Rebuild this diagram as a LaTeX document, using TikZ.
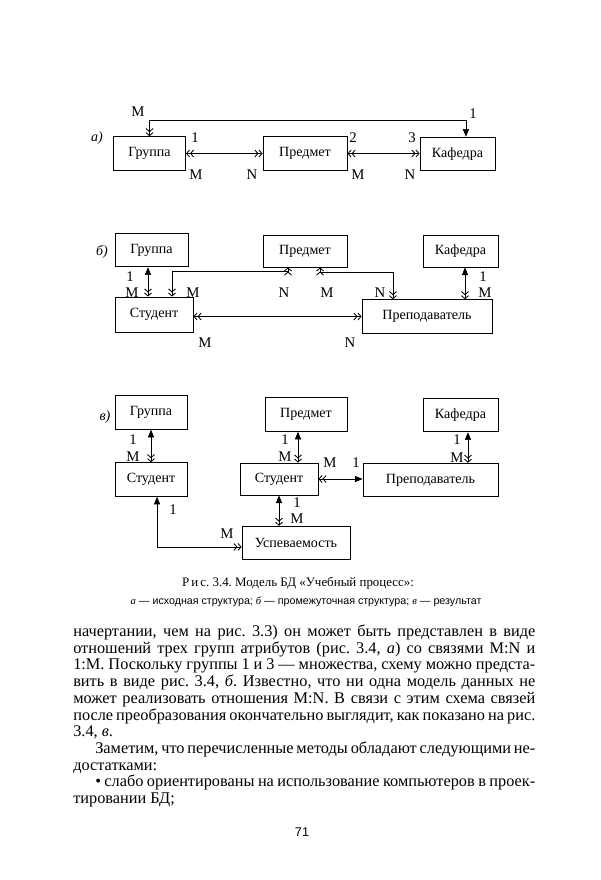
\documentclass[tikz,border=0pt]{standalone}
\usepackage{fontspec}
\setmainfont{Liberation Serif}
\setsansfont{Liberation Sans}
\usetikzlibrary{arrows.meta}
\newlength\fullw \setlength\fullw{328.6pt}
\newlength\indw \setlength\indw{312.9pt}
\frenchspacing

\begin{document}
\begin{tikzpicture}[
  x=0.025cm, y=-0.025cm,
  dbl/.tip={Straight Barb[length=2.2pt,width=5pt,line width=0.6pt] Straight Barb[length=2.2pt,width=5pt,line width=0.6pt]},
  one/.tip={Triangle[length=5.5pt,width=4.4pt]},
  ent/.style={draw, line width=0.6pt, minimum height=0.84cm, inner sep=0pt, font=\fontsize{10}{12}\selectfont},
  lbl/.style={inner sep=0pt, font=\fontsize{10.5}{12}\selectfont},
  tag/.style={inner sep=0pt, font=\fontsize{10}{12}\selectfont\itshape},
  txt/.style={inner sep=0pt, anchor=base west, font=\fontsize{11.6}{12}\selectfont},
  lnk/.style={line width=0.5pt},
  mm/.style={lnk, arrows={dbl-dbl}},
  om/.style={lnk, arrows={one-dbl}},
  mo/.style={lnk, arrows={dbl-one}}
]
  \fill[white] (0,0) rectangle (600,880);
  \useasboundingbox (0,0) rectangle (600,880);

  % a) initial structure
  \node[tag] (ta) at (97,138) {a)};
  \node[ent, minimum width=1.8cm] (grA) at (149.5,153.5) {Группа};
  \node[ent, minimum width=2.1cm] (prA) at (305,153.5) {Предмет};
  \node[ent, minimum width=1.875cm] (kfA) at (457.5,154) {Кафедра};
  \draw[mm] (grA.east) -- (grA.east -| prA.west);
  \draw[mm] (prA.east) -- (prA.east -| kfA.west);
  \draw[mo] (grA.north) -- ++(0,-16) -| ([xshift=6pt]kfA.north);
  \foreach \t/\px/\py [count=\i] in {M/138/112, 1/473/114, 1/195/138, 2/353/138, 3/412/138,
      M/196/175, N/252/175, M/358/175, N/410/175}
    \node[lbl] (la\i) at (\px,\py) {\t};

  % b) intermediate structure
  \node[tag] (tb) at (102,252) {б)};
  \node[ent, minimum width=1.825cm] (grB) at (151.5,250) {Группа};
  \node[ent, minimum width=2.1cm, minimum height=0.8cm] (prB) at (305,251) {Предмет};
  \node[ent, minimum width=1.875cm, minimum height=0.8cm] (kfB) at (460.5,251) {Кафедра};
  \node[ent, minimum width=1.95cm, minimum height=0.875cm] (stB) at (154,314.5) {Студент};
  \node[ent, minimum width=3.25cm] (tcB) at (427,316.5) {Преподаватель};
  \draw[om] ([xshift=-2.5pt]grB.south) -- ([xshift=-2.5pt]grB.south |- stB.north);
  \draw[om] ([xshift=3.2pt]kfB.south) -- ([xshift=3.2pt]kfB.south |- tcB.north);
  \draw[mm] ([xshift=12.8pt]stB.north) -- ++(0,-25) -| ([xshift=-12.1pt]prB.south);
  \draw[mm] ([xshift=10.7pt]prB.south) -- ++(0,4.5) -| ([xshift=-24.2pt]tcB.north);
  \draw[mm] (tcB.west -| stB.east) -- (tcB.west);
  \foreach \t/\px/\py [count=\i] in {1/130/277, M/132/293, M/193/293, N/284/293, M/327/293,
      N/380/293, 1/483/277, M/485/293, M/205/343, N/350/343}
    \node[lbl] (lb\i) at (\px,\py) {\t};

  % c) result
  \node[tag] (tc) at (105,417) {в)};
  \node[ent, minimum width=1.8cm] (grC) at (151,412.5) {Группа};
  \node[ent, minimum width=2.05cm] (prC) at (306,414.5) {Предмет};
  \node[ent, minimum width=1.875cm] (kfC) at (460.5,415) {Кафедра};
  \node[ent, minimum width=1.8cm] (st1C) at (151,479.5) {Студент};
  \node[ent, minimum width=1.95cm, minimum height=0.8cm] (st2C) at (279,479) {Студент};
  \node[ent, minimum width=3.375cm] (tcC) at (430.5,480) {Преподаватель};
  \node[ent, minimum width=2.7cm] (usC) at (296,543) {Успеваемость};
  \draw[om] (grC.south) -- (grC.south |- st1C.north);
  \draw[om] ([xshift=-5.7pt]prC.south) -- ([xshift=-5.7pt]prC.south |- st2C.north);
  \draw[om] ([xshift=5.3pt]kfC.south) -- ([xshift=5.3pt]kfC.south |- tcC.north);
  \draw[mo] (st2C.east) -- (st2C.east -| tcC.west);
  \draw[om] (st2C.south) -- (st2C.south |- usC.north);
  \draw[om] ([xshift=4.3pt]st1C.south) |- ([yshift=-2.8pt]usC.west);
  \foreach \t/\px/\py [count=\i] in {1/133/440, M/133/457, 1/285/440, M/285/457, 1/457/440,
      M/457/458, M/330/463, 1/356/463, 1/297/503, M/297/519, 1/173/510, M/227/534}
    \node[lbl] (lc\i) at (\px,\py) {\t};

  % caption
  \node[lbl, font=\fontsize{9.2}{11}\selectfont] (cap1) at (298,583)
    {Р\kern1.5pt и\kern1.5pt с. 3.4. Модель БД «Учебный процесс»:};
  \node[lbl, font=\sffamily\fontsize{7.6}{9}\selectfont] (cap2) at (306,602)
    {{\rmfamily\itshape а} — исходная структура; {\rmfamily\itshape б} — промежуточная структура; {\rmfamily\itshape в} — результат};

  % running text
  \node[txt] (t1) at (73,636.5) {\hbox to \fullw{начертании, чем на рис. 3.3) он может быть представлен в виде}};
  \node[txt] (t2) at (73,653.2) {\hbox to \fullw{отношений трех групп атрибутов (рис. 3.4, \textit{а}) со связями M:N и}};
  \node[txt] (t3) at (73,669.9) {\hbox to \fullw{1:M. Поскольку группы 1 и 3 — множества, схему можно предста-}};
  \node[txt] (t4) at (73,686.6) {\hbox to \fullw{вить в виде рис. 3.4, \textit{б}. Известно, что ни одна модель данных не}};
  \node[txt] (t5) at (73,703.3) {\hbox to \fullw{может реализовать отношения M:N. В связи с этим схема связей}};
  \node[txt] (t6) at (73,720) {\hbox to \fullw{после преобразования окончательно выглядит, как показано на рис.}};
  \node[txt] (t7) at (73,736.7) {3.4, \textit{в}.};
  \node[txt] (t8) at (95,753.4) {\hbox to \indw{Заметим, что перечисленные методы обладают следующими не-}};
  \node[txt] (t9) at (73,770.1) {достатками:};
  \node[txt] (t10) at (95,786.8) {\hbox to \indw{• слабо ориентированы на использование компьютеров в проек-}};
  \node[txt] (t11) at (73,803.5) {тировании БД;};

  \node[lbl, font=\sffamily\fontsize{9}{11}\selectfont] (pg) at (302,832) {71};
\end{tikzpicture}
\end{document}
